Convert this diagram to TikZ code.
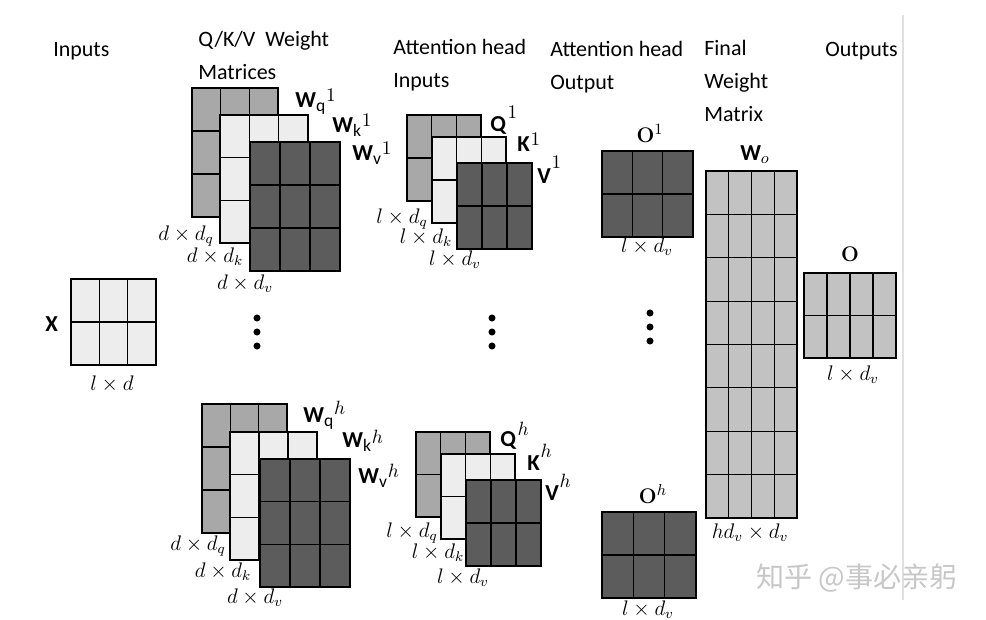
\documentclass[tikz,border=0pt]{standalone}
\usepackage[no-math]{fontspec}
\setmainfont{Carlito}
\newfontfamily\cjk{Noto Sans CJK SC}
\usetikzlibrary{positioning}

\definecolor{qfill}{gray}{0.66}
\definecolor{kfill}{gray}{0.93}
\definecolor{vfill}{gray}{0.36}
\definecolor{ofill}{gray}{0.76}

% matrix drawn as a filled grid: x0, y0, x1, y1, columns, rows, fill
\newcommand{\mgrid}[7]{%
  \fill[#7] (#1,#2) rectangle (#3,#4);
  \pgfmathtruncatemacro{\mcols}{#5-1}
  \pgfmathtruncatemacro{\mrows}{#6-1}
  \foreach \i in {1,...,\mcols} \draw[cell] ({#1+\i*(#3-#1)/#5},#2) -- ({#1+\i*(#3-#1)/#5},#4);
  \foreach \j in {1,...,\mrows} \draw[cell] (#1,{#2+\j*(#4-#2)/#6}) -- (#3,{#2+\j*(#4-#2)/#6});
  \draw[cell] (#1,#2) rectangle (#3,#4);
}
% bold letter, sans subscript, raised math superscript
\newcommand{\lbl}[4]{\textbf{#1}\raisebox{-2.5pt}{\fontsize{10}{10}\selectfont #2}\hspace{0.5pt}\raisebox{#4}{\fontsize{11}{11}\selectfont$#3$}}

\begin{document}
\begin{tikzpicture}[
    x=0.02cm, y=-0.02cm,
    cell/.style={line width=0.6pt, black},
    head/.style={anchor=base west, inner sep=0, align=left, font=\fontsize{12.5}{18.5}\selectfont},
    blab/.style={anchor=base west, inner sep=0, font=\fontsize{13}{13}\selectfont},
    olab/.style={anchor=base, inner sep=0, font=\fontsize{13}{13}\selectfont},
    dim/.style={anchor=base, inner sep=0, font=\fontsize{12}{12}\selectfont}
]
\useasboundingbox (0,0) rectangle (986,619);

% column headers (anchored at the last line)
\node[head] (hin) at (53,56) {Inputs};
\node[head] (hqkv) at (198,79) {Q/K/V\ \ Weight\\Matrices};
\node[head] (hain) at (393,87) {Attention head\\Inputs};
\node[head] (haout) at (550,89) {Attention head\\Output};
\node[head] (hfin) at (704,121) {Final\\Weight\\Matrix};
\node[head] (hout) at (825,56) {Outputs};

% input
\mgrid{71}{279}{156}{365}{3}{2}{kfill}
\node[blab] (lx) at (45,331) {\textbf{X}};
\node[dim] (dx) at (112,390) {$l\times d$};

% weight matrices, head 1
\mgrid{192}{88}{278}{217}{3}{3}{qfill}
\mgrid{220}{115}{308}{243}{3}{3}{kfill}
\mgrid{250}{142}{340}{271}{3}{3}{vfill}
\node[blab] (lwq1) at (295,107) {\lbl{W}{q}{1}{3pt}};
\node[blab] (lwk1) at (332,132) {\lbl{W}{k}{1}{3pt}};
\node[blab] (lwv1) at (352,160) {\lbl{W}{v}{1}{3pt}};
\node[dim] (dwq1) at (186,240) {$d\times d_q$};
\node[dim] (dwk1) at (215,262) {$d\times d_k$};
\node[dim] (dwv1) at (245,289) {$d\times d_v$};

% weight matrices, head h
\mgrid{202}{404}{287}{533}{3}{3}{qfill}
\mgrid{230}{432}{317}{560}{3}{3}{kfill}
\mgrid{260}{459}{350}{587}{3}{3}{vfill}
\node[blab] (lwqh) at (303,422) {\lbl{W}{q}{h}{4pt}};
\node[blab] (lwkh) at (342,447) {\lbl{W}{k}{h}{2pt}};
\node[blab] (lwvh) at (358,483) {\lbl{W}{v}{h}{3pt}};
\node[dim] (dwqh) at (198,550) {$d\times d_q$};
\node[dim] (dwkh) at (223,577) {$d\times d_k$};
\node[dim] (dwvh) at (255,603) {$d\times d_v$};

% attention head inputs, head 1
\mgrid{407}{115}{481}{201}{3}{2}{qfill}
\mgrid{432}{137}{506}{223}{3}{2}{kfill}
\mgrid{457}{163}{532}{249}{3}{2}{vfill}
\node[blab] (lq1) at (490,131) {\lbl{Q}{}{1}{7pt}};
\node[blab] (lk1) at (517,151) {\lbl{K}{}{1}{3pt}};
\node[blab] (lv1) at (537,183) {\lbl{V}{}{1}{8pt}};
\node[dim] (dq1) at (402,223) {$l\times d_q$};
\node[dim] (dk1) at (426,243) {$l\times d_k$};
\node[dim] (dv1) at (455,265) {$l\times d_v$};

% attention head inputs, head h
\mgrid{416}{432}{490}{517}{3}{2}{qfill}
\mgrid{441}{454}{515}{539}{3}{2}{kfill}
\mgrid{466}{480}{541}{566}{3}{2}{vfill}
\node[blab] (lqh) at (500,446) {\lbl{Q}{}{h}{6pt}};
\node[blab] (lkh) at (527,470) {\lbl{K}{}{h}{7pt}};
\node[blab] (lvh) at (545,500) {\lbl{V}{}{h}{7pt}};
\node[dim] (dqh) at (412,537) {$l\times d_q$};
\node[dim] (dkh) at (438,558) {$l\times d_k$};
\node[dim] (dvh) at (463,583) {$l\times d_v$};

% attention head outputs
\mgrid{602}{151}{693}{237}{3}{2}{vfill}
\node[olab] (lo1) at (650,142) {$\mathbf{O}^{1}$};
\node[dim] (do1) at (647,252) {$l\times d_v$};
\mgrid{602}{512}{696}{598}{3}{2}{vfill}
\node[olab] (loh) at (653,503) {$\mathbf{O}^{h}$};
\node[dim] (doh) at (648,615) {$l\times d_v$};

% final weight matrix and output
\mgrid{706}{171}{797}{518}{4}{8}{ofill}
\node[olab] (lwo) at (755,160) {\textbf{W}$_{o}$};
\node[dim] (dwo) at (750,538) {$hd_v\times d_v$};
\mgrid{804}{273}{896}{358}{4}{2}{ofill}
\node[olab] (lo) at (850,261) {$\mathbf{O}$};
\node[dim] (do) at (853,380) {$l\times d_v$};

% vertical dots
\foreach \y in {318,332,346} \fill (257,\y) circle (2pt);
\foreach \y in {318,332,346} \fill (492,\y) circle (2pt);
\foreach \y in {313,327,341} \fill (650,\y) circle (2pt);

% frame line and watermark
\draw[black!12, line width=0.8pt] (903,15) -- (903,600);
\node[font=\cjk\fontsize{16}{16}\selectfont, text=black!22, inner sep=0] (wm) at (857,578) {知乎 @事必亲躬};
\end{tikzpicture}
\end{document}
